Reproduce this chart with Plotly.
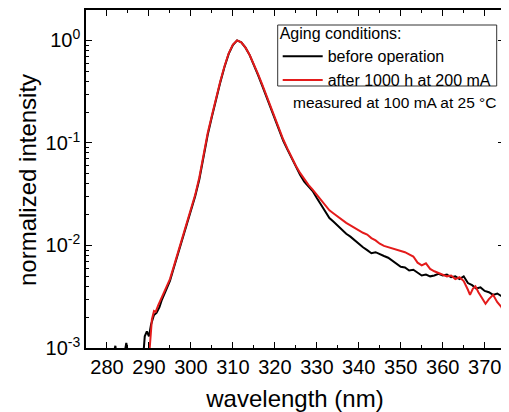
import plotly.graph_objects as go

# ---- data ----
wl_before = [275, 277, 279, 281, 282, 282.5, 284, 284.6, 285.2, 286, 287, 288, 288.7,
             289.0, 289.5, 290.0, 290.5, 291.2, 291.8, 292.5, 293, 294, 295, 296, 297,
             298, 299, 300, 301, 302, 303, 304, 305, 306, 307, 308, 309, 310, 311, 312,
             313, 314, 315, 316, 317, 318, 319, 320, 321, 322, 323, 324, 325, 326, 327,
             328, 329, 330, 331, 332, 333, 334, 335, 336, 337, 338, 339, 340, 341, 342,
             343, 344, 345, 346, 347, 348, 349, 350, 351, 352, 353, 354, 355, 356, 357,
             358, 359, 360, 361, 362, 363, 364, 365, 366, 367, 368, 369, 370, 371, 372,
             373, 374, 374.5]
int_before = [5e-4, 6e-4, 5e-4, 7e-4, 1.05e-3, 7e-4, 8e-4, 1.12e-3, 8e-4, 6e-4, 7e-4, 8e-4, 9e-4,
              1.3e-3, 1.45e-3, 1.3e-3, 1.7e-3, 2.1e-3, 2.2e-3, 2.5e-3, 2.9e-3, 3.6e-3, 4.5e-3,
              6.2e-3, 8.5e-3, 0.012, 0.016, 0.0215, 0.030, 0.044, 0.075, 0.12, 0.18, 0.27,
              0.39, 0.55, 0.74, 0.90, 1.0, 0.96, 0.85, 0.72, 0.58, 0.46, 0.36, 0.28, 0.215,
              0.17, 0.13, 0.105, 0.086, 0.071, 0.059, 0.049, 0.042, 0.038, 0.034, 0.029,
              0.025, 0.022, 0.0185, 0.017, 0.0155, 0.0142, 0.013, 0.0122, 0.0112, 0.0104,
              0.0096, 0.0090, 0.0084, 0.0086, 0.0082, 0.0079, 0.0076, 0.0071, 0.0067, 0.0062,
              0.0061, 0.0057, 0.0058, 0.0054, 0.0051, 0.0052, 0.0050, 0.0051, 0.0053, 0.0051,
              0.0052, 0.0049, 0.0050, 0.0047, 0.0050, 0.0043, 0.0041, 0.0038, 0.0039, 0.0036,
              0.0035, 0.0033, 0.0034, 0.0032, 0.0033]

wl_after = [290.0, 290.2, 290.7, 291.2, 291.6, 292.2, 293, 294, 295, 296, 297, 298, 299,
            300, 301, 302, 303, 304, 305, 306, 307, 308, 309, 310, 311, 312, 313, 314, 315,
            316, 317, 318, 319, 320, 321, 322, 323, 324, 325, 326, 327, 328, 329, 330, 331,
            332, 333, 334, 335, 336, 337, 338, 339, 340, 341, 342, 343, 344, 345, 346, 347,
            348, 349, 350, 351, 352, 353, 354, 355, 356, 357, 358, 359, 360, 361, 362, 363,
            364, 365, 366, 366.5, 367.2, 367.8, 368.5, 369.5, 370.2, 371, 372, 373, 374, 374.5]
int_after = [8e-4, 1.1e-3, 1.9e-3, 2.3e-3, 2.25e-3, 2.6e-3, 3.1e-3, 3.8e-3, 4.7e-3, 6.4e-3,
             8.8e-3, 0.0122, 0.0165, 0.022, 0.031, 0.046, 0.078, 0.125, 0.185, 0.275, 0.40,
             0.56, 0.75, 0.91, 1.0, 0.96, 0.85, 0.72, 0.59, 0.47, 0.37, 0.29, 0.225, 0.175,
             0.135, 0.108, 0.088, 0.072, 0.060, 0.051, 0.044, 0.039, 0.035, 0.031, 0.0275,
             0.0245, 0.022, 0.0205, 0.019, 0.0177, 0.0166, 0.0157, 0.0148, 0.0141, 0.0133,
             0.0128, 0.0118, 0.0112, 0.0104, 0.0099, 0.0096, 0.0094, 0.0091, 0.0089, 0.0086,
             0.0082, 0.0078, 0.0068, 0.0064, 0.0067, 0.0059, 0.0056, 0.0054, 0.0052, 0.0050,
             0.0051, 0.0047, 0.0049, 0.0045, 0.0037, 0.0033, 0.0038, 0.0040, 0.0035, 0.0030,
             0.0027, 0.0030, 0.0033, 0.0028, 0.0025, 0.0022]

x_ticks = [280, 290, 300, 310, 320, 330, 340, 350, 360, 370]
y_ticks = [1e-3, 1e-2, 1e-1, 1]
y_ticktext = ["10<sup>-3</sup>", "10<sup>-2</sup>", "10<sup>-1</sup>", "10<sup>0</sup>"]
y_minor = [k * 10.0 ** e for e in range(-3, 1) for k in range(2, 10)]

FONT = "Liberation Sans, Arial, sans-serif"
# page body has an 8px margin, so the figure is drawn at (8, 8) in the window
OFF = 8
W, H = 509 - OFF, 412 - OFF
L, R, T, B = 86 - OFF, 5, 10 - OFF, H - (348 - OFF)
PW, PH = W - L - R, H - T - B

def px_x(xw):  # window px -> paper x
    return (xw - OFF - L) / PW

def px_y(yw):  # window px -> paper y
    return (H - B - (yw - OFF)) / PH

fig = go.Figure()
fig.add_trace(go.Scatter(x=wl_before, y=int_before, mode="lines", name="before operation",
                         line=dict(color="black", width=2)))
fig.add_trace(go.Scatter(x=wl_after, y=int_after, mode="lines", name="after 1000 h at 200 mA",
                         line=dict(color="#e41b1b", width=2)))

fig.update_layout(
    width=W, height=H,
    margin=dict(l=L, r=R, t=T, b=B, autoexpand=False),
    paper_bgcolor="white", plot_bgcolor="white",
    font=dict(family=FONT, color="black"),
    showlegend=True,
    legend=dict(
        x=px_x(277.7), y=px_y(18.5), xanchor="left", yanchor="top",
        borderwidth=0, bgcolor="rgba(255,255,255,0)",
        font=dict(size=16, family=FONT),
        title=dict(text="Aging conditions:", font=dict(size=16, family=FONT)),
        itemwidth=40, tracegroupgap=0,
    ),
    xaxis=dict(
        range=[275, 374.6], tickvals=x_ticks, ticks="inside", ticklen=6, tickwidth=1.2,
        tickcolor="black", showline=True, linecolor="black", linewidth=1.5,
        mirror="allticks", showgrid=False, zeroline=False, automargin=False,
        tickfont=dict(size=20, family=FONT),
        title=dict(text="wavelength (nm)", font=dict(size=24, family=FONT)),
        minor=dict(ticks="inside", ticklen=3, dtick=5, tickcolor="black", showgrid=False),
    ),
    yaxis=dict(
        type="log", range=[-3, 0.297], tickvals=y_ticks, ticktext=y_ticktext,
        ticks="inside", ticklen=6, tickwidth=1.2, tickcolor="black",
        showline=True, linecolor="black", linewidth=1.5, mirror="allticks",
        showgrid=False, zeroline=False, automargin=False,
        tickfont=dict(size=20, family=FONT),
        minor=dict(ticks="inside", ticklen=3, tickvals=y_minor,
                   tickcolor="black", showgrid=False),
    ),
)

# y-axis title, placed where the reference has it
fig.add_annotation(text="normalized intensity", xref="paper", yref="paper",
                   x=px_x(27), y=px_y(180), xanchor="center", yanchor="middle",
                   textangle=-90, showarrow=False, font=dict(size=24, family=FONT))

# legend frame
fig.add_shape(type="rect", xref="paper", yref="paper",
              x0=px_x(277.7), x1=px_x(496.7), y0=px_y(86), y1=px_y(25),
              line=dict(color="#333", width=1), fillcolor="rgba(0,0,0,0)")

fig.add_annotation(text="measured at 100 mA at 25 °C", xref="paper", yref="paper",
                   x=px_x(499), y=px_y(103), xanchor="right", yanchor="middle",
                   showarrow=False, font=dict(size=15.5, family=FONT))

fig.write_html("out.html")
